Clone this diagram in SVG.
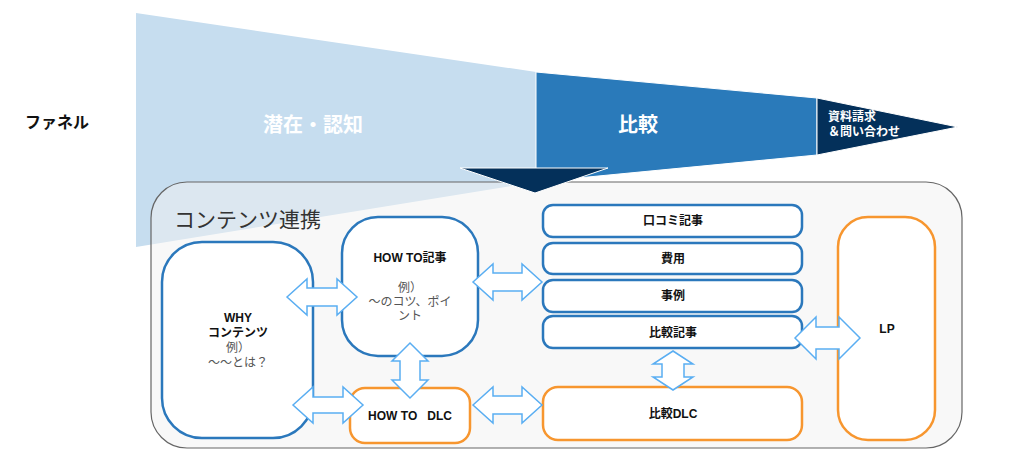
<svg xmlns="http://www.w3.org/2000/svg" width="1024" height="456" viewBox="0 0 1024 456">
<style>
text{font-family:"Liberation Sans","Noto Sans CJK JP",sans-serif;}
.lbl{font-size:12px;font-weight:bold;fill:#111;text-anchor:middle;}
.sub{font-size:12px;fill:#555;text-anchor:middle;}
.wt{fill:#fff;font-weight:bold;text-anchor:middle;}
.blue{fill:#fff;stroke:#2b78bc;stroke-width:2.5;}
.orange{fill:#fff;stroke:#f7962f;stroke-width:2.5;}
.arr{fill:#fff;stroke:#5aaef2;stroke-width:1.5;stroke-linejoin:miter;}
</style>
<rect width="1024" height="456" fill="#fff"/>
<g id="funnel">
<polygon points="136,13 536,72 536,182 136,247" fill="#c6ddef"/>
<polygon points="536,72 817,98 817,155 536,182" fill="#2a7aba" stroke="#fff" stroke-width="1"/>
<polygon points="817,98 958,127 817,155" fill="#04305a" stroke="#fff" stroke-width="1"/>
<text x="57" y="128" style="font-size:16px;font-weight:bold;fill:#111;text-anchor:middle">ファネル</text>
<text x="313" y="132" class="wt" style="font-size:20px">潜在・認知</text>
<text x="638" y="132" class="wt" style="font-size:20px">比較</text>
<text x="828" y="121" style="font-size:12px;fill:#fff;font-weight:bold">資料請求</text>
<text x="828" y="136" style="font-size:12px;fill:#fff;font-weight:bold">＆問い合わせ</text>
</g>
<g id="container">
<rect x="151" y="182" width="811" height="266" rx="36" fill="#f2f2f2" fill-opacity="0.5" stroke="#666" stroke-width="1.2"/>
<text x="174" y="227" style="font-size:21px;fill:#333">コンテンツ連携</text>
</g>
<polygon id="funnel-arrow" points="460,168 608,168 535,193" fill="#04305a" stroke="#fff" stroke-width="1"/>
<g id="why">
<rect x="162" y="242" width="151" height="196" rx="40" class="blue"/>
<text x="238" y="322" class="lbl">WHY</text>
<text x="238" y="337" class="lbl">コンテンツ</text>
<text x="238" y="352" class="sub">例）</text>
<text x="238" y="367" class="sub">～～とは？</text>
</g>
<g id="howto">
<rect x="342" y="217" width="136" height="139" rx="36" class="blue"/>
<text x="410" y="262" class="lbl">HOW TO記事</text>
<text x="410" y="292" class="sub">例）</text>
<text x="410" y="306" class="sub">～のコツ、ポイ</text>
<text x="410" y="320" class="sub">ント</text>
</g>
<g id="howto-dlc">
<rect x="350" y="388" width="120" height="55" rx="15" class="orange"/>
<text x="410" y="420" class="lbl" style="white-space:pre">HOW TO   DLC</text>
</g>
<g id="kuchikomi">
<rect x="543" y="205" width="259" height="32" rx="10" class="blue"/>
<text x="673" y="225" class="lbl">口コミ記事</text>
</g>
<g id="hiyou">
<rect x="543" y="243" width="259" height="31" rx="10" class="blue"/>
<text x="673" y="263" class="lbl">費用</text>
</g>
<g id="jirei">
<rect x="543" y="280" width="259" height="32" rx="10" class="blue"/>
<text x="673" y="300" class="lbl">事例</text>
</g>
<g id="hikaku">
<rect x="543" y="316" width="259" height="32" rx="10" class="blue"/>
<text x="673" y="337" class="lbl">比較記事</text>
</g>
<g id="hikaku-dlc">
<rect x="543" y="387" width="259" height="53" rx="15" class="orange"/>
<text x="673" y="418" class="lbl">比較DLC</text>
</g>
<g id="lp">
<rect x="838" y="217" width="97" height="223" rx="30" class="orange"/>
<text x="887" y="333" class="lbl">LP</text>
</g>
<g id="connectors">
<path class="arr" d="M287,297 L307,279 L307,288 L337,288 L337,279 L357,297 L337,315 L337,306 L307,306 L307,315 Z"/>
<path class="arr" d="M293,405 L313,387 L313,397 L343,397 L343,387 L363,405 L343,423 L343,413 L313,413 L313,423 Z"/>
<path class="arr" d="M410,343 L428,361 L420,361 L420,380 L428,380 L410,398 L392,380 L400,380 L400,361 L392,361 Z"/>
<path class="arr" d="M473,282 L493,264 L493,273 L522,273 L522,264 L542,282 L522,300 L522,291 L493,291 L493,300 Z"/>
<path class="arr" d="M473,405 L493,387 L493,396 L522,396 L522,387 L542,405 L522,423 L522,414 L493,414 L493,423 Z"/>
<path class="arr" d="M673,351 L693,364 L684,364 L684,377 L693,377 L673,390 L653,377 L662,377 L662,364 L653,364 Z"/>
<path class="arr" d="M795,338 L816,317 L816,327 L839,327 L839,317 L860,338 L839,359 L839,349 L816,349 L816,359 Z"/>
</g>
</svg>
